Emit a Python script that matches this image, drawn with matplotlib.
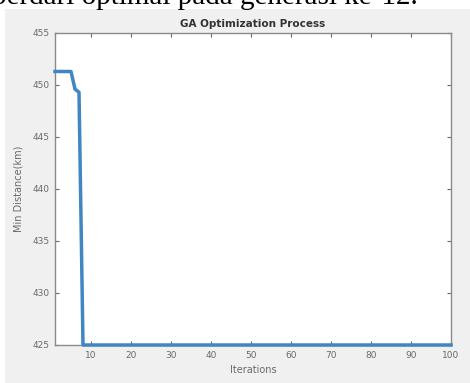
import matplotlib.pyplot as plt
from matplotlib.patches import Rectangle

# best distance per GA iteration
iterations = list(range(1, 101))
min_distance = [451.3, 451.3, 451.3, 451.3, 451.3, 449.6, 449.3, 425.0, 425.0, 425.0,
                425.0, 425.0, 425.0, 425.0, 425.0, 425.0, 425.0, 425.0, 425.0, 425.0,
                425.0, 425.0, 425.0, 425.0, 425.0, 425.0, 425.0, 425.0, 425.0, 425.0,
                425.0, 425.0, 425.0, 425.0, 425.0, 425.0, 425.0, 425.0, 425.0, 425.0,
                425.0, 425.0, 425.0, 425.0, 425.0, 425.0, 425.0, 425.0, 425.0, 425.0,
                425.0, 425.0, 425.0, 425.0, 425.0, 425.0, 425.0, 425.0, 425.0, 425.0,
                425.0, 425.0, 425.0, 425.0, 425.0, 425.0, 425.0, 425.0, 425.0, 425.0,
                425.0, 425.0, 425.0, 425.0, 425.0, 425.0, 425.0, 425.0, 425.0, 425.0,
                425.0, 425.0, 425.0, 425.0, 425.0, 425.0, 425.0, 425.0, 425.0, 425.0,
                425.0, 425.0, 425.0, 425.0, 425.0, 425.0, 425.0, 425.0, 425.0, 425.0]
xticks = [10, 20, 30, 40, 50, 60, 70, 80, 90, 100]
yticks = [425, 430, 435, 440, 445, 450, 455]

W, H = 470, 383
fig = plt.figure(figsize=(W / 100, H / 100), dpi=100, facecolor='white')

# grey matlab figure background, page text above it
fig.patches.append(Rectangle((5 / W, 0), 1, 1 - 9 / H, transform=fig.transFigure,
                             facecolor='#f0f0f0', edgecolor='none', zorder=-10))
fig.text(418 / W, 1 - 4.5 / H, 'berdari optimal pada generasi ke-12.', ha='right',
         va='baseline', fontsize=21, family='Liberation Serif', color='black')

ax = fig.add_axes([55 / W, (H - 345) / H, 396 / W, 312 / H])
ax.set_facecolor('white')
ax.plot(iterations, min_distance, color='#3f86c2', lw=2.5, clip_on=False, zorder=5)

ax.set_xlim(1, 100)
ax.set_ylim(425, 455)
ax.set_xticks(xticks)
ax.set_yticks(yticks)

grey = '#6a6a6a'
for s in ax.spines.values():
    s.set_color('#8a8a8a')
    s.set_linewidth(1.0)
ax.tick_params(direction='in', length=3, width=0.8, colors=grey, labelsize=6.5,
               top=True, right=True, pad=4)
ax.set_xlabel('Iterations', fontsize=7, color=grey, labelpad=4)
ax.set_ylabel('Min Distance(km)', fontsize=7, color=grey, labelpad=6)
ax.set_title('GA Optimization Process', fontsize=7.5, fontweight='bold',
             color='#333333', pad=4)

plt.savefig('out.png', dpi=100, facecolor=fig.get_facecolor())
